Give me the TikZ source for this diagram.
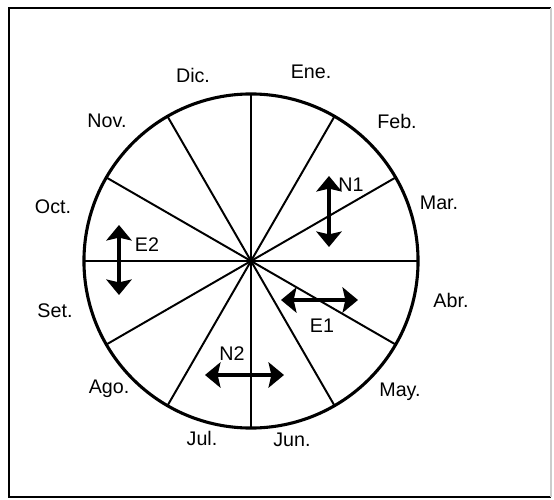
\documentclass[tikz,border=0pt]{standalone}
\usepackage{fontspec}
\setmainfont{Liberation Sans}
\usetikzlibrary{arrows.meta}
\tikzset{
  mes/.style={font=\fontsize{14}{16}\selectfont,inner sep=0pt},
  rim/.style={line width=2.2pt,draw=black},
  spoke/.style={line width=1.4pt,draw=black},
  dbl/.style={{Stealth[length=11pt,width=18pt,inset=2pt]}-{Stealth[length=11pt,width=18pt,inset=2pt]},line width=3pt}
}

\begin{document}
\begin{tikzpicture}[x=0.025cm,y=-0.025cm]
\useasboundingbox (0,0) rectangle (554,500);
% frame
\draw[line width=1.6pt] (551,8) -- (9,8) -- (9,497) -- (551,497);
\draw[gray!40,line width=1pt] (551,8) -- (551,497);
% wheel
\coordinate (c) at (251,261);
\draw[rim] (c) circle[radius=4.175cm];
\foreach \a in {0,30,...,330}
  \draw[spoke] (c) -- ++(\a:4.175cm);
% months
\node[mes] (ene) at (311,72) {Ene.};
\node[mes] (feb) at (397,121) {Feb.};
\node[mes] (mar) at (439,203) {Mar.};
\node[mes] (abr) at (451,300) {Abr.};
\node[mes] (may) at (400,392) {May.};
\node[mes] (jun) at (292,440) {Jun.};
\node[mes] (jul) at (202,438) {Jul.};
\node[mes] (ago) at (109,389) {Ago.};
\node[mes] (set) at (55,311) {Set.};
\node[mes] (oct) at (53,207) {Oct.};
\node[mes] (nov) at (107,121) {Nov.};
\node[mes] (dic) at (193,75) {Dic.};
% shifts
\coordinate (n1a) at (329,176);
\coordinate (n1b) at (329,247);
\draw[dbl] (n1a) -- (n1b);
\node[mes] (n1) at (351,185) {N1};
\coordinate (e1a) at (281,300);
\coordinate (e1b) at (358,300);
\draw[dbl] (e1a) -- (e1b);
\node[mes] (e1) at (322,326) {E1};
\coordinate (e2a) at (119,225);
\coordinate (e2b) at (119,295);
\draw[dbl] (e2a) -- (e2b);
\node[mes] (e2) at (147,245) {E2};
\coordinate (n2a) at (205,375);
\coordinate (n2b) at (284,375);
\draw[dbl] (n2a) -- (n2b);
\node[mes] (n2) at (232,354) {N2};
\end{tikzpicture}
\end{document}
